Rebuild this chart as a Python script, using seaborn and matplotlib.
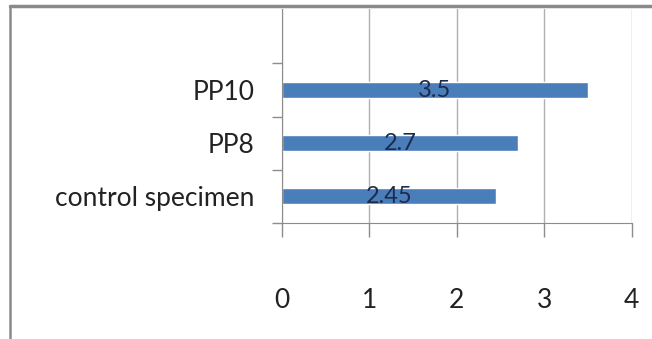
import matplotlib
matplotlib.use("Agg")
import matplotlib.pyplot as plt
from matplotlib.lines import Line2D
from matplotlib.ticker import FixedLocator
import seaborn as sns
import pandas as pd

categories = ["PP10", "PP8", "control specimen"]
values = [3.5, 2.7, 2.45]
value_labels = ["3.5", "2.7", "2.45"]
x_ticks = [0, 1, 2, 3, 4]

sns.set_style("white")
plt.rcParams["font.family"] = ["Lato", "DejaVu Sans"]

df = pd.DataFrame({"specimen": categories, "value": values})

fig = plt.figure(figsize=(6.52, 3.39), dpi=100)
ax = fig.add_axes([0.4325, 0.342, 0.5365, 0.631])

sns.barplot(data=df, x="value", y="specimen", order=categories, orient="h",
            color="#4a7ebb", saturation=1, width=0.3, ax=ax)

# data labels in the middle of each bar
for i, (v, lab) in enumerate(zip(values, value_labels)):
    ax.text(v / 2, i, lab, ha="center", va="center", fontsize=17, color="#1c2b4d")

ax.set_xlim(0, 4)
ax.set_xticks(x_ticks)
ax.set_ylim(2.5, -1.52)
ax.set_xlabel("")
ax.set_ylabel("")

ax.grid(axis="x", color="#b0b0b0", linewidth=1)
ax.set_axisbelow(True)
for s in ["top", "right"]:
    ax.spines[s].set_visible(False)
ax.spines["left"].set_color("#8c8c8c")
ax.spines["bottom"].set_color("#8c8c8c")

ax.yaxis.set_minor_locator(FixedLocator([-0.5, 0.5, 1.5, 2.5]))
ax.tick_params(axis="y", which="major", left=True, length=0, pad=20, labelsize=19, labelcolor="#222222")
ax.tick_params(axis="y", which="minor", left=True, length=7, width=1, color="#8c8c8c", direction="out")
ax.tick_params(axis="x", bottom=True, length=10, width=1, color="#8c8c8c", pad=37, labelsize=19, labelcolor="#222222")
ax.xaxis.grid(True)
ax.yaxis.grid(False)

# frame of the original chart box
fig.add_artist(Line2D([10 / 652, 1], [1 - 6 / 339, 1 - 6 / 339], color="#8a8a8a", linewidth=2.5))
fig.add_artist(Line2D([10 / 652, 10 / 652], [0, 1 - 6 / 339], color="#8a8a8a", linewidth=1.8))

fig.savefig("out.png", dpi=100)
